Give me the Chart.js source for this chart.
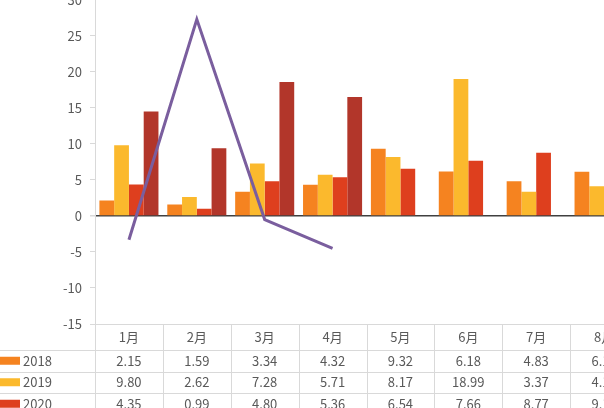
<!DOCTYPE html>
<html>
<head>
<meta charset="utf-8">
<script src="https://cdn.jsdelivr.net/npm/chart.js@4/dist/chart.umd.min.js"></script>
<style>
  html, body { margin: 0; padding: 0; background: #fff; }
  #wrap { position: relative; width: 604px; height: 408px; overflow: hidden; }
  #box { position: absolute; left: -10px; top: -16px; width: 648px; height: 478px; }
</style>
</head>
<body>
<div id="wrap">
  <div id="box"><canvas id="salesChart"></canvas></div>
</div>
<script>
const months = ['1月', '2月', '3月', '4月', '5月', '6月', '7月', '8月'];
const y2018 = [2.15, 1.59, 3.34, 4.32, 9.32, 6.18, 4.83, 6.12];
const y2019 = [9.80, 2.62, 7.28, 5.71, 8.17, 18.99, 3.37, 4.12];
const y2020 = [4.35, 0.99, 4.80, 5.36, 6.54, 7.66, 8.77, 9.15];
const y2021 = [14.5, 9.4, 18.6, 16.5, null, null, null, null];
const growth = [-3.3, 27.3, -0.5, -4.5, null, null, null, null];
const yTicks = { min: -15, max: 30, step: 5 };

const textColor = '#595959';
const lineGray = '#d9d9d9';
const font = '"Noto Sans CJK SC", "Noto Sans", sans-serif';

// Tabel data di bawah grafik
const dataTable = {
    id: 'dataTable',
    afterDraw(chart) {
        const ctx = chart.ctx;
        const x = chart.scales.x;
        const area = chart.chartArea;
        const colW = x.width / months.length;
        const headH = 26;
        const rowH = 21.5;
        const rows = chart.data.datasets
            .filter(ds => ds.type !== 'line')
            .concat(chart.data.datasets.filter(ds => ds.type === 'line'));
        const bottom = area.bottom + headH + rows.length * rowH;

        ctx.save();
        ctx.strokeStyle = lineGray;
        ctx.lineWidth = 1;
        ctx.beginPath();
        ctx.moveTo(x.left - 5, Math.round(area.bottom) + 0.5);
        ctx.lineTo(x.right, Math.round(area.bottom) + 0.5);
        for (let r = 0; r < rows.length; r++) {
            const yy = Math.round(area.bottom + headH + r * rowH) + 0.5;
            ctx.moveTo(0, yy);
            ctx.lineTo(x.right, yy);
        }
        for (let i = 0; i <= months.length; i++) {
            const xx = Math.round(x.left + i * colW) + 0.5;
            ctx.moveTo(xx, area.bottom);
            ctx.lineTo(xx, bottom);
        }
        ctx.stroke();

        ctx.font = '13px ' + font;
        ctx.textBaseline = 'middle';
        rows.forEach((ds, r) => {
            const cy = area.bottom + headH + r * rowH + rowH / 2;
            ctx.fillStyle = ds.borderColor;
            if (ds.type === 'line') {
                ctx.fillRect(0, cy - 1.5, 30, 3);
            } else {
                ctx.fillRect(0, cy - 4, 30, 8);
            }
            ctx.fillStyle = textColor;
            ctx.textAlign = 'left';
            ctx.fillText(ds.label, 33, cy);
            ctx.textAlign = 'center';
            ds.data.forEach((v, i) => {
                if (v === null) return;
                ctx.fillText(v.toFixed(2), x.getPixelForValue(i), cy);
            });
        });
        ctx.restore();
    }
};

const barSet = (label, data, color) => ({
    type: 'bar',
    label: label,
    data: data,
    backgroundColor: color,
    borderColor: color,
    borderWidth: 0,
    order: 1
});

new Chart(document.getElementById('salesChart'), {
    data: {
        labels: months,
        datasets: [
            barSet('2018', y2018, 'rgb(245, 131, 32)'),
            barSet('2019', y2019, 'rgb(251, 185, 45)'),
            barSet('2020', y2020, 'rgb(222, 63, 30)'),
            barSet('2021', y2021, 'rgb(178, 54, 42)'),
            {
                type: 'line',
                label: '2021同比',
                data: growth,
                borderColor: 'rgb(122, 94, 158)',
                backgroundColor: 'rgb(122, 94, 158)',
                borderWidth: 3,
                pointRadius: 0,
                tension: 0,
                fill: false,
                order: 0
            }
        ]
    },
    options: {
        responsive: true,
        maintainAspectRatio: false,
        animation: false,
        layout: { padding: 0 },
        datasets: {
            bar: { categoryPercentage: 0.87, barPercentage: 1 }
        },
        plugins: {
            legend: { display: false },
            tooltip: { enabled: false }
        },
        scales: {
            x: {
                grid: { display: false, drawTicks: false },
                border: { display: false },
                ticks: {
                    color: textColor,
                    font: { family: font, size: 13 },
                    padding: 5,
                    maxRotation: 0
                },
                afterFit(scale) {
                    scale.height = 138;
                }
            },
            y: {
                min: yTicks.min,
                max: yTicks.max,
                ticks: {
                    stepSize: yTicks.step,
                    color: textColor,
                    font: { family: font, size: 13 },
                    padding: 8
                },
                grid: {
                    drawOnChartArea: true,
                    color: c => c.tick.value === 0 ? '#404040' : 'rgba(0,0,0,0)',
                    lineWidth: c => c.tick.value === 0 ? 1.5 : 1,
                    tickColor: lineGray,
                    tickLength: 5
                },
                border: { color: lineGray, width: 1 },
                afterFit(scale) {
                    scale.width = 105;
                }
            }
        }
    },
    plugins: [dataTable]
});
</script>
</body>
</html>
